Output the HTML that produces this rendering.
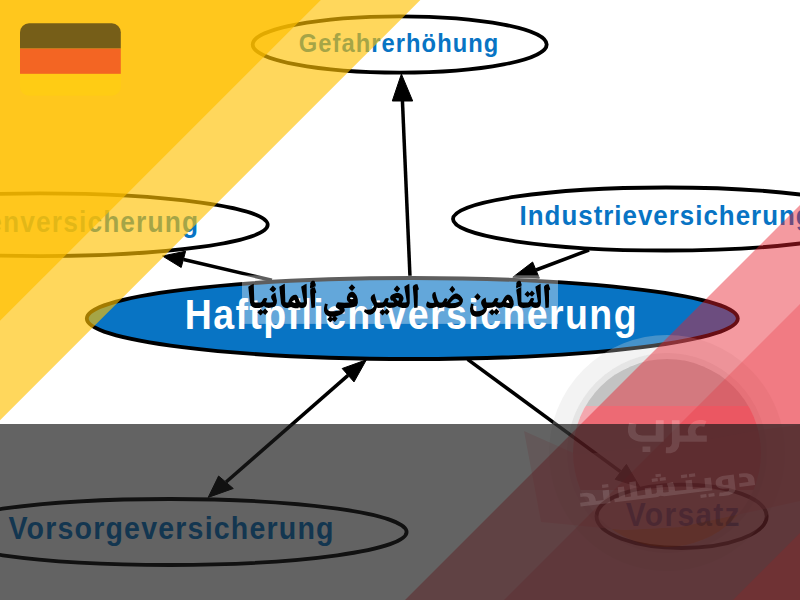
<!DOCTYPE html>
<html><head><meta charset="utf-8"><style>
html,body{margin:0;padding:0;width:800px;height:600px;overflow:hidden;background:#fff}
svg{display:block}
text{font-family:"Liberation Sans",sans-serif;font-weight:bold}
</style></head><body>
<svg width="800" height="600" viewBox="0 0 800 600">
<defs>
<clipPath id="fc"><rect x="20" y="23.3" width="100.8" height="72.4" rx="9"/></clipPath>
<clipPath id="disc"><circle cx="667" cy="453" r="94"/></clipPath>
<clipPath id="top"><rect x="0" y="0" width="800" height="424"/></clipPath>
<clipPath id="bot"><rect x="0" y="424" width="800" height="176"/></clipPath>
</defs>
<rect width="800" height="600" fill="#fff"/>
<!-- ellipses -->
<g stroke="#000" stroke-width="3.8">
<ellipse cx="399.7" cy="44.5" rx="147" ry="28.2" fill="#fff"/>
<ellipse cx="40" cy="224.75" rx="227.7" ry="31.35" fill="#fff"/>
<ellipse cx="666" cy="219" rx="213" ry="31.5" fill="#fff"/>
<ellipse cx="170" cy="532" rx="236.6" ry="33" fill="#fff"/>
<ellipse cx="681.6" cy="516.3" rx="85.1" ry="31.7" fill="#fff"/>
<ellipse cx="412.3" cy="318.5" rx="325.5" ry="40.5" fill="#0874c4"/>
</g>
<!-- arrows -->
<g stroke="#000" stroke-width="3.5" fill="none">
<line x1="410" y1="277" x2="402.4" y2="100"/>
<line x1="271.9" y1="280.3" x2="183.6" y2="259.5"/>
<line x1="589" y1="250" x2="536" y2="270"/>
<line x1="348" y1="375.4" x2="226.1" y2="482"/>
<line x1="467.6" y1="359.3" x2="620.4" y2="471.7"/>
</g>
<g fill="#000" stroke="#000" stroke-width="1" stroke-linejoin="round">
<polygon points="401.4,74 392.3,101 412.7,101"/>
<polygon points="162.5,256 185.6,251.2 181.2,267.5"/>
<polygon points="512.8,277.2 532.6,262 539.4,278.2"/>
<polygon points="366.4,359.8 342.2,368.5 354,381.9"/>
<polygon points="208.2,497.4 218.6,476 233.3,488.5"/>
<polygon points="639.8,487 615.2,479.3 626.4,464.4"/>
</g>
<!-- texts -->
<text transform="translate(298.80 51.9) scale(0.23715 0.265)" font-size="100" letter-spacing="4.48" fill="#0874c4">Gefahrerhöhung</text>
<text transform="translate(-92.86 232.25) scale(0.26347 0.29)" font-size="100" letter-spacing="4.24" fill="#0874c4">Krankenversicherung</text>
<text transform="translate(519.59 225.45) scale(0.25882 0.285)" font-size="100" letter-spacing="3.90" fill="#0874c4">Industrieversicherung</text>
<text transform="translate(8.41 539.3) scale(0.28560 0.305)" font-size="100" letter-spacing="4.17" fill="#0874c4">Vorsorgeversicherung</text>
<text transform="translate(625.80 525.6) scale(0.29927 0.33)" font-size="100" letter-spacing="4.38" fill="#0874c4">Vorsatz</text>
<text transform="translate(184.68 329) scale(0.37479 0.42)" font-size="100" letter-spacing="3.79" fill="#fff">Haftpflichtversicherung</text>
<!-- arabic title box -->
<rect x="242" y="275.3" width="316" height="48.6" fill="#fff" fill-opacity="0.37"/>
<g fill="#000">
<path transform="translate(248.30 265.64) scale(0.13975 0.13900)" d="M141 330 120 309 103 327 89 312 65 336 76 348 89 358 105 341 121 355 137 338ZM176 143 152 169 152 171 177 194 191 180 200 167ZM222 152 234 268 237 279 247 294 258 301 269 304 281 305 306 298 319 303 335 306 358 306 361 299 365 302 377 305 390 304 402 301 411 294 415 287 420 270 417 131 401 138 378 152 397 259 396 263 384 266 376 266 369 259 353 221 345 211 340 209 324 211 315 216 304 226 292 245 285 266 274 266 267 264 265 262 261 132 259 131 237 142ZM313 259 320 253 332 247 338 267 333 268 315 262ZM0 152 12 265 19 286 28 296 37 301 48 304 80 304 98 300 112 291 127 301 146 305 167 302 186 295 195 289 203 270 205 253 193 194 174 206 165 217 163 223 165 236 178 259 175 263 156 266 138 266 128 263 127 261 136 238 128 233 118 232 112 234 106 240 97 258 88 265 48 265 43 261 39 131 19 140ZM468 108 457 109 447 118 442 131 445 141 441 143 442 163 443 164 452 159 454 160 447 166 443 174 443 199 452 305 477 302 478 200 487 192 476 156 457 157 472 151 481 150 483 129 477 129 477 116 471 109Z"/>
<path transform="translate(324.00 265.64) scale(0.13600 0.13900)" d="M222 193 212 188 201 188 184 197 176 207 169 225 168 241 172 254 184 265 183 266 149 267 101 263 96 268 88 284 86 296 91 303 119 321 77 329 50 329 38 326 27 317 23 306 23 295 28 278 7 273 0 304 0 323 2 333 8 346 17 356 29 363 42 367 24 386 41 404 48 408 64 392 80 405 100 381 85 365 112 357 129 349 141 341 150 330 152 324 152 317 150 309 147 305 148 304 158 305 194 303 220 298 240 291 249 269 248 242 242 221 236 209ZM53 369 54 367 70 368 62 377ZM190 234 196 227 206 227 214 234 216 238 213 240 204 241 193 239ZM205 133 181 159 196 175 207 183 230 157Z"/>
<path transform="translate(364.00 265.64) scale(0.13253 0.13900)" d="M193 330 172 309 155 327 141 312 117 336 128 348 141 358 157 341 173 355 189 338ZM248 143 224 169 236 182 251 193 273 167 250 143ZM403 134 390 134 378 139 373 143 368 153 374 219 379 305 404 302 406 220 405 177 411 173 414 168ZM342 131 317 143 304 152 322 257 321 263 309 266 287 266 286 264 293 255 298 240 298 231 292 216 284 207 272 200 262 197 242 197 217 205 205 213 198 223 197 233 200 243 208 253 214 250 227 264 226 266 190 266 180 263 179 261 188 238 177 232 164 234 158 240 149 258 140 265 104 266 97 263 79 203 77 203 59 215 55 220 50 233 54 251 76 288 72 297 60 310 47 316 23 317 6 313 0 331 15 343 31 352 48 353 67 346 81 334 87 326 97 302 108 305 139 303 150 300 163 291 179 301 194 305 227 301 251 291 264 298 288 304 316 304 331 299 338 291 345 271 345 211ZM240 235 249 233 261 235 264 239 261 250 256 254 239 237Z"/>
<path transform="translate(426.25 265.64) scale(0.12374 0.13900)" d="M0 288 3 295 8 300 25 306 55 305 84 295 87 295 96 301 112 305 133 302 146 295 167 302 191 306 233 305 257 298 279 285 286 278 294 264 296 256 296 242 287 227 271 212 250 201 235 201 216 210 202 221 180 244 166 262 165 259 173 241 165 236 155 235 150 237 144 243 139 253 130 264 124 266 109 266 102 263 93 250 82 221 73 187 58 194 53 199 48 212 50 231 65 265 55 268 31 267 22 264 11 257 2 270 0 277ZM269 257 258 262 233 269 199 270 194 268 210 252 221 244 232 239 246 240 257 246ZM210 145 186 172 211 196 228 178 234 169Z"/>
<path transform="translate(470.00 265.64) scale(0.13422 0.13900)" d="M218 330 196 309 179 327 165 312 141 336 165 358 181 341 197 355 210 342ZM324 254 312 226 301 214 291 209 278 209 266 216 254 231 240 257 233 263 225 266 214 266 203 262 213 239 201 232 188 234 181 242 174 257 164 265 125 265 121 262 116 229 97 240 87 251 83 262 83 273 86 282 102 311 88 321 71 327 50 329 35 326 27 318 24 309 24 291 28 277 8 272 0 308 2 332 11 351 18 358 27 363 42 367 70 365 94 356 103 350 115 338 123 324 127 304 138 305 168 302 182 296 188 291 203 301 218 305 237 302 247 295 251 295 263 300 284 305 310 306 320 294 326 280ZM278 248 282 247 286 251 290 258 293 267 292 269 279 267 269 263 271 257ZM56 198 32 224 32 226 48 242 58 249 72 234 80 222ZM483 200 461 178 445 196 443 196 429 182 406 206 421 221 431 227 445 211 462 224ZM586 134 574 134 561 139 554 146 551 154 558 229 562 305 587 302 589 243 588 178 598 169ZM526 131 502 142 487 152 505 255 505 262 498 265 481 266 469 262 479 239 468 232 461 232 453 235 439 259 431 265 393 266 385 263 383 261 382 153 364 161 346 172 345 179 351 219 357 278 361 288 369 296 378 301 398 305 435 302 447 297 454 291 470 301 485 305 504 303 516 298 525 283 529 263ZM375 110 371 108 362 108 355 112 348 120 345 127 345 136 347 141 343 144 345 164 362 155 383 150 385 129 380 129 380 118Z"/>
</g>
<!-- watermark (under bands) -->
<circle cx="667" cy="453" r="109" fill="none" stroke="#d7d7d7" stroke-opacity="0.3" stroke-width="18"/>
<circle cx="667" cy="453" r="97" fill="none" stroke="#aaaaaa" stroke-opacity="0.3" stroke-width="6"/>
<g clip-path="url(#disc)">
<rect x="560" y="350" width="220" height="56" fill="#000" fill-opacity="0.235"/>
<rect x="560" y="406" width="220" height="84" fill="#dc0014" fill-opacity="0.34"/>
<polygon points="541,522 624,530 680,527 750,512 805,500 805,600 541,600" fill="#ff8c00" fill-opacity="0.45"/>
</g>
<polygon points="524,431 578,455 700,441 760,430 805,424 805,500 750,512 680,527 624,530 541,522" fill="#ffaaaf" fill-opacity="0.4"/>
<g clip-path="url(#top)"><path transform="translate(667.5 436.8) rotate(0) translate(-39.50 -16.80) scale(0.19082 0.18162)" d="M76 146 76 176 117 176 117 146ZM187 1 146 1 145 86 74 86 54 81 44 72 40 62 40 46 44 23 6 15 0 43 0 66 5 84 13 96 23 105 38 113 56 118 71 120 187 120ZM411 5 391 0 374 0 356 4 342 11 326 26 317 42 313 61 317 85 271 86 270 1 230 1 230 130 226 142 216 150 199 150 198 183 225 183 248 173 258 163 266 149 271 120 413 120 413 86 362 86 354 72 354 56 358 47 369 37 378 34 400 37Z" fill="#fff" fill-opacity="0.6"/></g>
<!-- yellow bands -->
<polygon points="0,0 420.3,0 0,420.3" fill="#ffc000" fill-opacity="0.64"/>
<polygon points="0,0 320.8,0 0,320.8" fill="#ffc000" fill-opacity="0.68"/>
<!-- flag -->
<g clip-path="url(#fc)">
<rect x="20" y="23" width="101" height="25.6" fill="#765e18"/>
<rect x="20" y="48.6" width="101" height="25.3" fill="#f36523"/>
<rect x="20" y="73.9" width="101" height="22" fill="#ffcc14"/>
</g>
<!-- red bands -->
<polygon points="800,205 800,600 405,600" fill="#e61e2c" fill-opacity="0.45"/>
<polygon points="800,304 800,600 504,600" fill="#e61e2c" fill-opacity="0.25"/>
<!-- gray band -->
<rect x="0" y="424" width="800" height="176" fill="#191919" fill-opacity="0.68"/>
<polygon points="800,533 800,600 733,600" fill="#c81414" fill-opacity="0.16"/>
<g clip-path="url(#bot)"><path transform="translate(667.5 436.8) rotate(0) translate(-39.50 -16.80) scale(0.19082 0.18162)" d="M76 146 76 176 117 176 117 146ZM187 1 146 1 145 86 74 86 54 81 44 72 40 62 40 46 44 23 6 15 0 43 0 66 5 84 13 96 23 105 38 113 56 118 71 120 187 120ZM411 5 391 0 374 0 356 4 342 11 326 26 317 42 313 61 317 85 271 86 270 1 230 1 230 130 226 142 216 150 199 150 198 183 225 183 248 173 258 163 266 149 271 120 413 120 413 86 362 86 354 72 354 56 358 47 369 37 378 34 400 37Z" fill="#fff" fill-opacity="0.12"/>
<path transform="translate(667 488) rotate(-7) translate(-88.00 -15.00) scale(0.15842 0.10949)" d="M810 235 810 265 848 265 848 235ZM759 235 759 265 797 265 797 235ZM1017 89 1017 123 1043 123 1059 128 1068 142 1070 174 1011 175 1011 209 1110 209 1109 145 1105 129 1096 112 1086 102 1067 93 1047 89ZM984 89 911 90 889 98 873 114 866 131 864 153 868 176 876 190 886 199 902 206 944 210 943 225 940 231 931 237 901 239 882 236 876 263 877 269 903 273 937 271 960 262 976 247 984 226ZM914 125 922 123 944 124 943 175 915 174 907 167 905 161 905 139 908 131ZM6 89 6 123 32 123 48 128 57 142 59 174 0 175 0 209 190 209 190 89 150 89 149 175 100 175 99 152 94 129 85 112 75 102 49 91ZM217 175 217 209 480 209 495 206 507 200 533 209 838 209 838 90 797 90 796 175 717 174 717 89 677 89 676 175 604 174 604 131 597 89 558 95 564 134 563 175 536 175 527 170 530 153 530 102 490 102 489 161 486 169 480 174 456 174 456 114 416 114 416 174 365 175 364 42 323 42 323 174 287 174 287 76 247 76 247 174ZM703 35 703 65 742 65 742 35ZM652 35 652 65 691 65 691 35ZM517 35 517 65 555 65 555 35ZM466 35 466 65 504 65 504 35ZM150 35 150 65 190 65 190 35ZM493 0 493 26 527 26 527 0Z" fill="#fff" fill-opacity="0.12"/></g>
</svg>
</body></html>
